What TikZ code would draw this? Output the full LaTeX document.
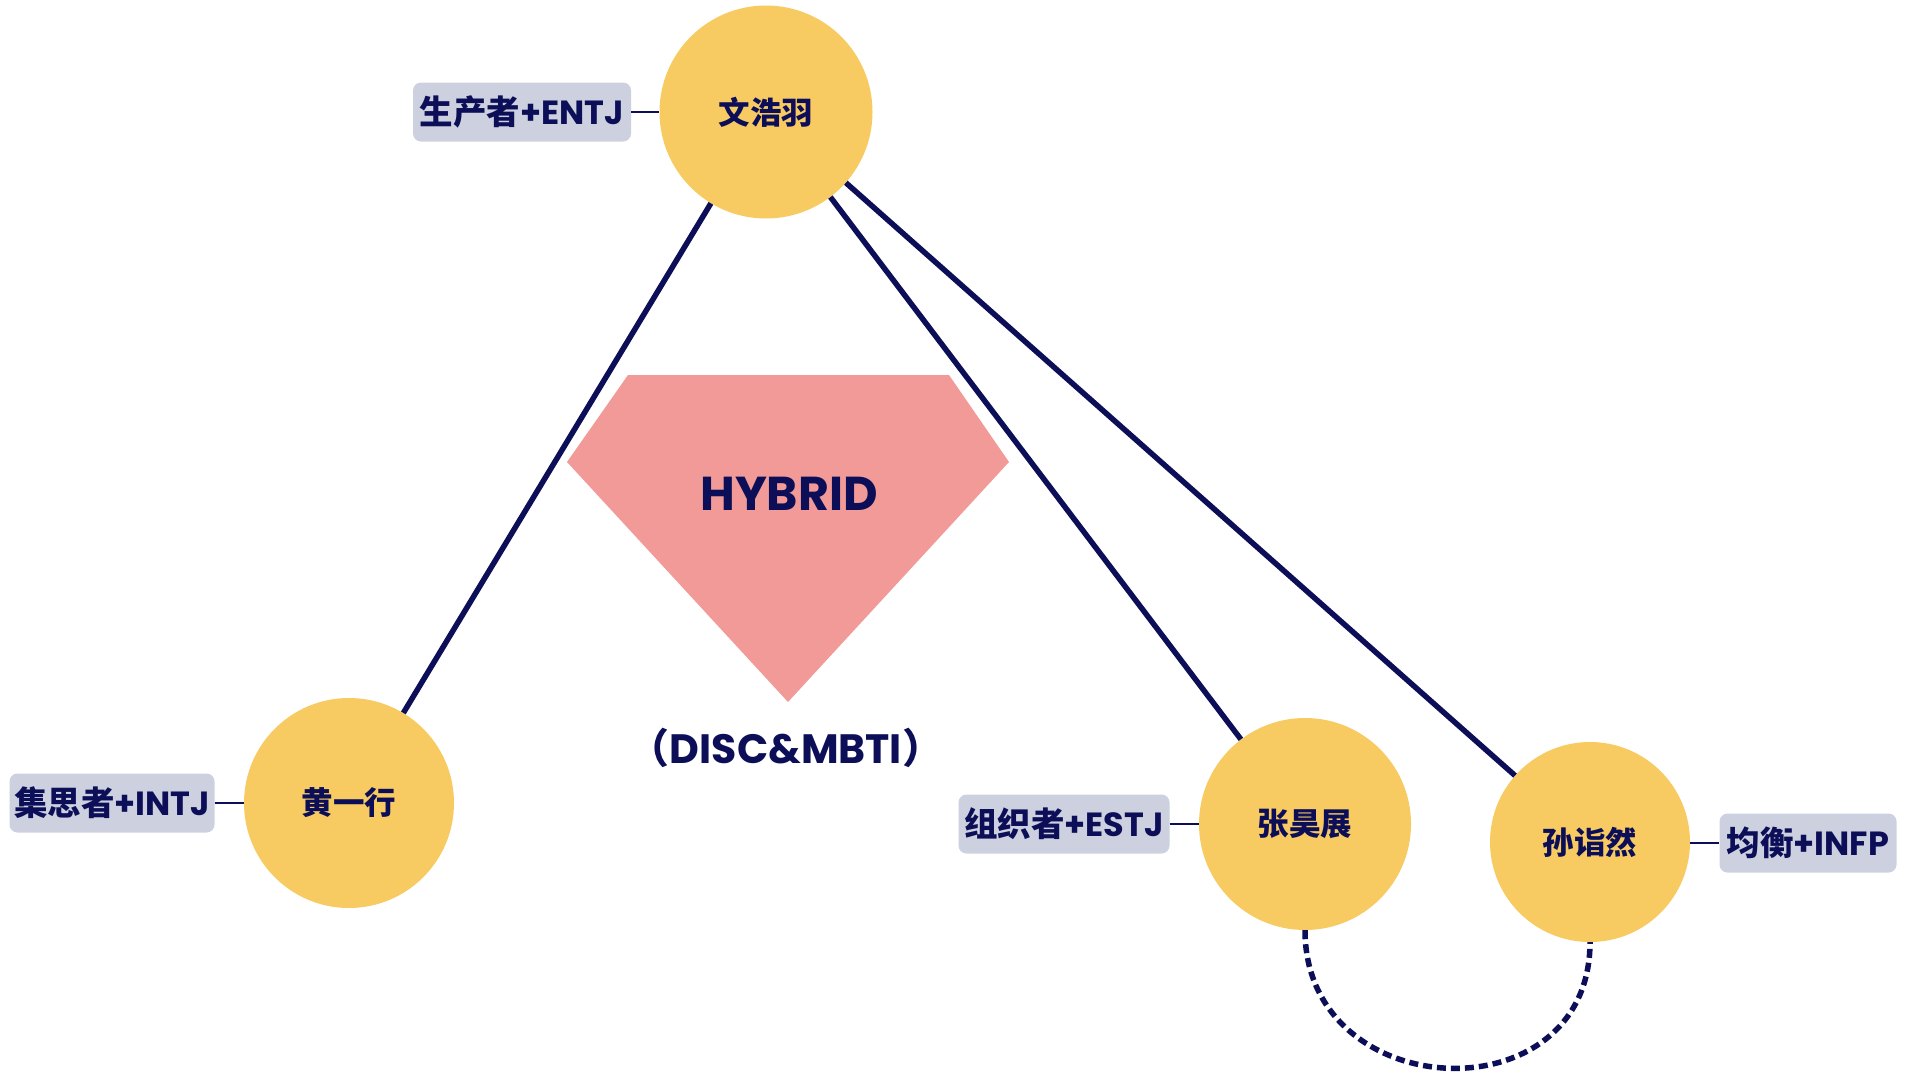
\documentclass[tikz,border=0pt]{standalone}
\usepackage{fontspec}
\setmainfont{Poppins}
\newfontfamily\cjk{Noto Sans CJK SC}
\definecolor{navy}{HTML}{0C0F57}
\definecolor{gold}{HTML}{F7CB62}
\definecolor{tagbg}{HTML}{CDD0DE}
\definecolor{gem}{HTML}{F19A98}
\tikzset{
  person/.style={circle, fill=gold, inner sep=0pt, text=navy,
    font=\cjk\bfseries\fontsize{31.5}{36}\selectfont},
  tag/.style={rounded corners=8pt, fill=tagbg, inner sep=0pt, minimum height=59pt,
    text=navy, font=\bfseries\fontsize{33.5}{38}\selectfont},
  edge/.style={draw=navy, line width=5.5pt},
  tagedge/.style={draw=navy, line width=2.5pt},
  dashedge/.style={draw=navy, line width=5.5pt, dash pattern=on 9pt off 5pt},
}
\begin{document}
\begin{tikzpicture}[x=1pt,y=-1pt]
\useasboundingbox (0,0) rectangle (1908,1082);
% gem shape
\fill[gem] (628,375) -- (949,375) -- (1009,462) -- (788,702) -- (567,462) -- cycle;
\node[text=navy, font=\bfseries\fontsize{47.5}{54}\selectfont] (hybrid) at (789,494) {HYBRID};
\node[text=navy, font=\bfseries\fontsize{41}{50}\selectfont] (disc) at (786,748) {{\cjk （}DISC\&MBTI{\cjk ）}};
% people
\node[person, minimum size=213pt] (wen) at (766,112) {文浩羽};
\node[person, minimum size=210pt] (huang) at (349,803) {黄一行};
\node[person, minimum size=212pt] (zhang) at (1305,824) {张昊展};
\node[person, minimum size=200pt] (sun) at (1590,842) {孙诣然};
% tags
\node[tag, minimum width=218pt] (tw) at (522,112) {{\cjk 生产者}+ENTJ};
\node[tag, minimum width=205pt] (th) at (112,803) {{\cjk 集思者}+INTJ};
\node[tag, minimum width=211pt] (tz) at (1064,824) {{\cjk 组织者}+ESTJ};
\node[tag, minimum width=177pt] (ts) at (1808,843) {{\cjk 均衡}+INFP};
% connectors
\draw[edge] (wen) -- (huang);
\draw[edge] (wen) -- (zhang);
\draw[edge] (wen) -- (sun);
\draw[tagedge] (tw.east) -- (tw.east -| wen.west);
\draw[tagedge] (th.east) -- (th.east -| huang.west);
\draw[tagedge] (tz.east) -- (tz.east -| zhang.west);
\draw[tagedge] (ts.west) -- (ts.west -| sun.east);
\draw[dashedge] (zhang.south) .. controls +(0,176) and +(0,176) .. (sun.south);
\end{tikzpicture}
\end{document}
